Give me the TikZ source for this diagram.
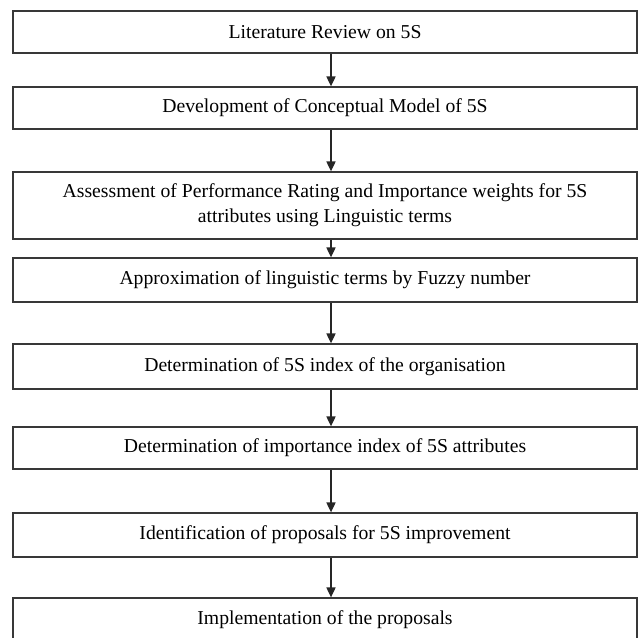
\documentclass[tikz,border=0pt]{standalone}
\usepackage{fontspec}
\setmainfont{Liberation Serif}
\usetikzlibrary{arrows.meta}

\begin{document}
\begin{tikzpicture}[x=0.02cm, y=-0.02cm,
    stage/.style={draw=black!78, line width=0.8pt, fill=white, inner sep=0pt,
                  minimum width=12.48cm, align=center,
                  font=\fontsize{11.2}{14.2}\selectfont},
    flow/.style={line width=0.65pt, black!85,
                 -{Triangle[width=5.2pt,length=5.6pt]}}]

    \useasboundingbox (0,0) rectangle (638,637);

    \node[stage, minimum height=0.84cm] (lit)  at (325,32)    {Literature Review on 5S};
    \node[stage, minimum height=0.84cm] (dev)  at (325,108)   {Development of Conceptual Model of 5S};
    \node[stage, minimum height=1.34cm] (ass)  at (325,205.5) {Assessment of Performance Rating and Importance weights for 5S\\attributes using Linguistic terms};
    \node[stage, minimum height=0.88cm] (app)  at (325,280)   {Approximation of linguistic terms by Fuzzy number};
    \node[stage, minimum height=0.90cm] (idx)  at (325,366.5) {Determination of 5S index of the organisation};
    \node[stage, minimum height=0.84cm] (imp)  at (325,448)   {Determination of importance index of 5S attributes};
    \node[stage, minimum height=0.88cm] (prop) at (325,535)   {Identification of proposals for 5S improvement};
    \node[stage, minimum height=0.88cm] (impl) at (325,620)   {Implementation of the proposals};

    \foreach \a/\b in {lit/dev, dev/ass, ass/app, app/idx, idx/imp, imp/prop, prop/impl}
        \draw[flow] ([xshift=0.12cm]\a.south) -- ([xshift=0.12cm]\b.north);

\end{tikzpicture}
\end{document}
